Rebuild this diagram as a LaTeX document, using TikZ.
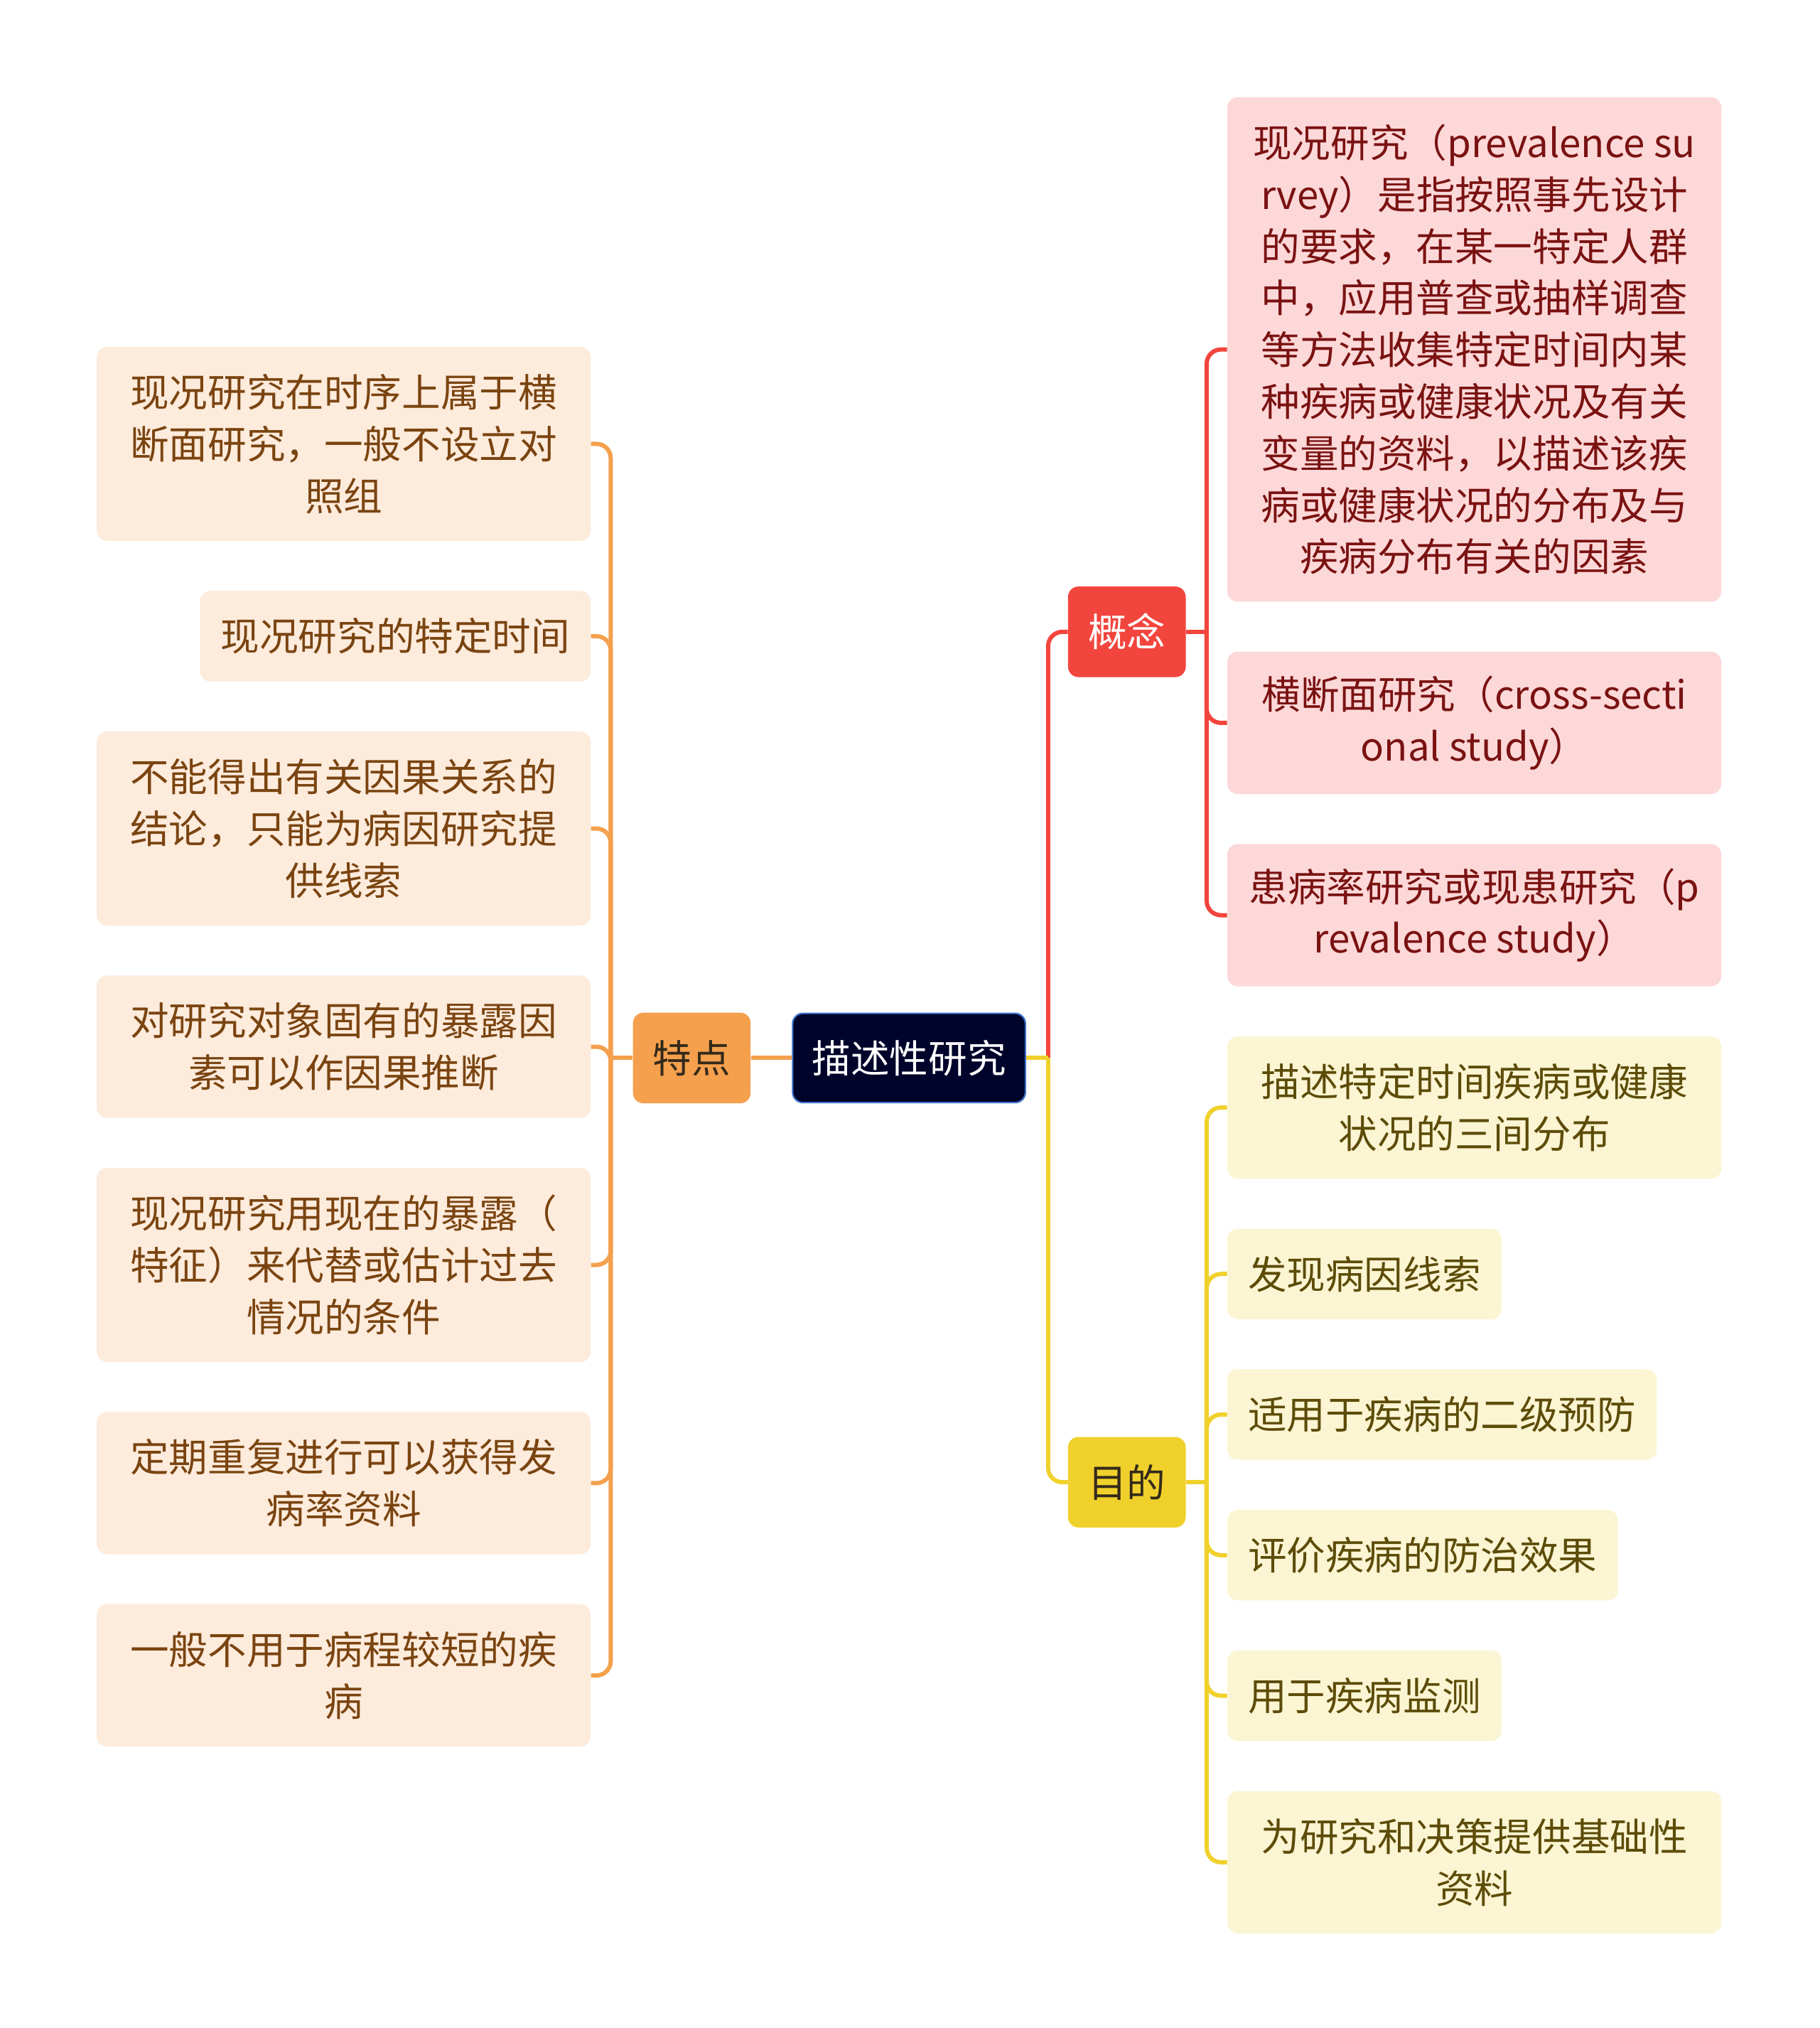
\documentclass[tikz,border=0pt]{standalone}
\usepackage{fontspec}
\setmainfont{Noto Sans CJK SC}
\usepackage{tikz}
\usetikzlibrary{positioning}
\usepackage{xcolor}
\definecolor{cRoot}{HTML}{00032A}
\definecolor{cRootLine}{HTML}{3B72C9}
\definecolor{cOrange}{HTML}{F4A04D}
\definecolor{cRed}{HTML}{F2453D}
\definecolor{cYellow}{HTML}{F0D12B}
\definecolor{cOrangeBg}{HTML}{FDEBDC}
\definecolor{cRedBg}{HTML}{FDD8D8}
\definecolor{cYellowBg}{HTML}{FCF5D3}
\definecolor{cOrangeTxt}{HTML}{7A4410}
\definecolor{cRedTxt}{HTML}{7A1212}
\definecolor{cYellowTxt}{HTML}{5C4C08}
\definecolor{cDarkTxt}{HTML}{33291A}

\begin{document}
\begin{tikzpicture}[
  x=1pt, y=-1pt,
  font=\fontsize{30}{40}\selectfont,
  node distance=38.3pt,
  root/.style={
    draw=cRootLine, fill=cRoot, text=white, rounded corners=8pt,
    line width=1.2pt, minimum width=180pt, minimum height=69pt,
    inner xsep=15pt
  },
  topic/.style={
    rounded corners=8pt, minimum width=91pt, minimum height=70pt,
    inner xsep=15pt
  },
  leaf/.style={
    rounded corners=8pt, inner xsep=16pt, inner ysep=0pt,
    align=center, minimum height={40pt*#1+30pt}
  },
  wide/.style={minimum width=382pt},
  tleaf/.style={leaf=#1, fill=cOrangeBg, text=cOrangeTxt},
  gleaf/.style={leaf=#1, fill=cRedBg, text=cRedTxt},
  mleaf/.style={leaf=#1, fill=cYellowBg, text=cYellowTxt},
  oline/.style={draw=cOrange, line width=3.3pt, rounded corners=11pt},
  rline/.style={draw=cRed, line width=3.3pt, rounded corners=11pt},
  yline/.style={draw=cYellow, line width=3.3pt, rounded corners=11pt}
]

\path[fill=white] (0,0) rectangle (1407,1568);

% Root and main topics
\node[root] (root) at (703,818) {描述性研究};
\node[topic, fill=cOrange, text=cDarkTxt] (td) at (535,818) {特点};
\node[topic, fill=cRed, text=white] (gn) at (871.5,488.5) {概念};
\node[topic, fill=cYellow, text=cDarkTxt] (md) at (871.5,1146) {目的};

% Left: 特点
\node[tleaf=3, wide, anchor=north east] (t1) at (457,268) {现况研究在时序上属于横\\断面研究，一般不设立对\\照组};
\node[tleaf=1, below=of t1.south east, anchor=north east] (t2) {现况研究的特定时间};
\node[tleaf=3, wide, below=of t2.south east, anchor=north east] (t3) {不能得出有关因果关系的\\结论，只能为病因研究提\\供线索};
\node[tleaf=2, wide, below=of t3.south east, anchor=north east] (t4) {对研究对象固有的暴露因\\素可以作因果推断};
\node[tleaf=3, wide, below=of t4.south east, anchor=north east] (t5) {现况研究用现在的暴露（\\特征）来代替或估计过去\\情况的条件};
\node[tleaf=2, wide, below=of t5.south east, anchor=north east] (t6) {定期重复进行可以获得发\\病率资料};
\node[tleaf=2, wide, below=of t6.south east, anchor=north east] (t7) {一般不用于病程较短的疾\\病};

% Right: 概念
\node[gleaf=9, wide, anchor=north west] (g1) at (949,75) {现况研究（prevalence su\\rvey）是指按照事先设计\\的要求，在某一特定人群\\中，应用普查或抽样调查\\等方法收集特定时间内某\\种疾病或健康状况及有关\\变量的资料，以描述该疾\\病或健康状况的分布及与\\疾病分布有关的因素};
\node[gleaf=2, wide, below=of g1.south west, anchor=north west] (g2) {横断面研究（cross-secti\\onal study）};
\node[gleaf=2, wide, below=of g2.south west, anchor=north west] (g3) {患病率研究或现患研究（p\\revalence study）};

% Right: 目的
\node[mleaf=2, wide, below=of g3.south west, anchor=north west] (m1) {描述特定时间疾病或健康\\状况的三间分布};
\node[mleaf=1, below=of m1.south west, anchor=north west] (m2) {发现病因线索};
\node[mleaf=1, below=of m2.south west, anchor=north west] (m3) {适用于疾病的二级预防};
\node[mleaf=1, below=of m3.south west, anchor=north west] (m4) {评价疾病的防治效果};
\node[mleaf=1, below=of m4.south west, anchor=north west] (m5) {用于疾病监测};
\node[mleaf=2, wide, below=of m5.south west, anchor=north west] (m6) {为研究和决策提供基础性\\资料};

% Joints
\coordinate (rj) at ([xshift=17pt]root.east);
\coordinate (tj) at ([xshift=-17pt]td.west);
\coordinate (gj) at ([xshift=16pt]gn.east);
\coordinate (mj) at ([xshift=16pt]md.east);

% Connectors
\draw[oline] (root.west) -- (td.east);
\draw[oline] (td.west) -- (tj);
\foreach \i in {1,...,7} \draw[oline] (tj) |- (t\i.east);

\draw[rline] (rj) |- (gn.west);
\draw[yline] (root.east) -- (rj);
\draw[yline] (rj) |- (md.west);

\draw[rline] (gn.east) -- (gj);
\foreach \i in {1,2,3} \draw[rline] (gj) |- (g\i.west);

\draw[yline] (md.east) -- (mj);
\foreach \i in {1,...,6} \draw[yline] (mj) |- (m\i.west);

\end{tikzpicture}
\end{document}
